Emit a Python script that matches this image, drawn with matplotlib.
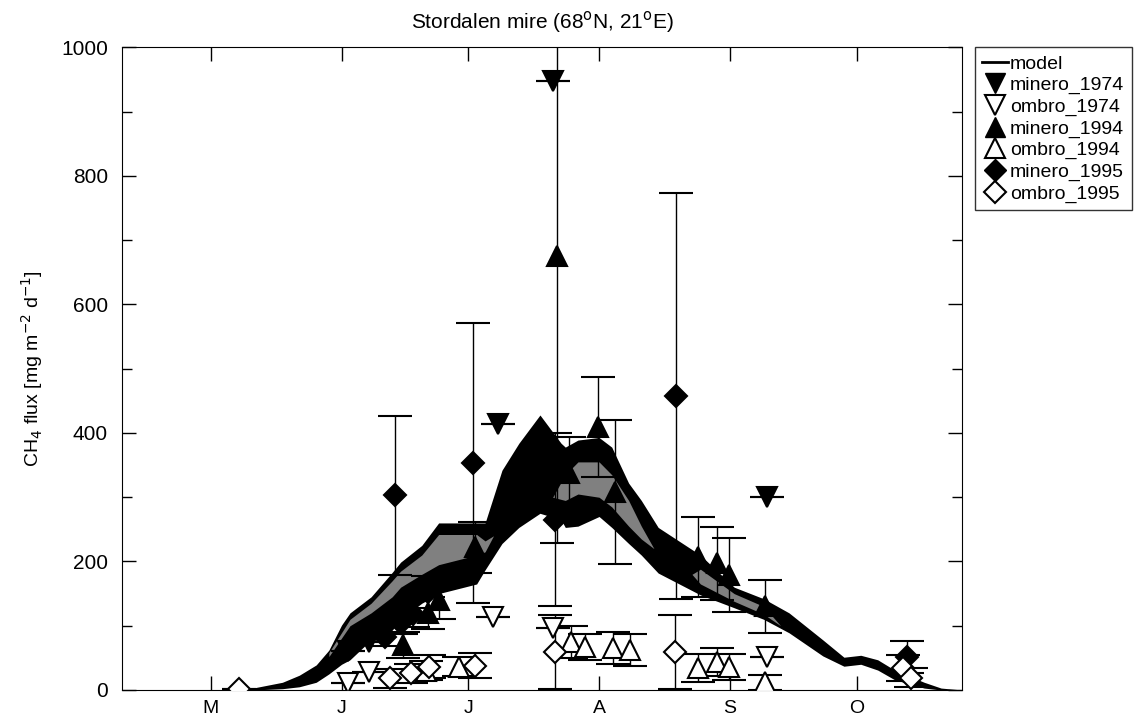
import numpy as np
import matplotlib
matplotlib.use("Agg")
from matplotlib import pyplot as plt
from matplotlib.lines import Line2D

plt.rcParams['font.family'] = ['Liberation Sans', 'DejaVu Sans']

# model envelope (day of year, CH4 flux)
band_day = [114, 140, 145, 152, 156, 160, 163, 166, 168, 173, 178, 180, 185, 189, 198, 200,
            204, 208, 213, 218, 219, 222, 227, 230, 234, 237, 241, 251, 259, 266, 272, 280,
            285, 289, 293, 297, 304, 308, 313]
band_hi = [0, 0, 3, 12, 23, 39, 62, 101, 120, 145, 183, 199, 225, 260, 260, 260,
           342, 384, 428, 384, 378, 389, 393, 378, 322, 295, 253, 210, 160, 142, 120, 78,
           51, 54, 47, 31, 12, 3, 0]
band_lo = [0, 0, 0, 2, 5, 12, 25, 40, 47, 78, 93, 110, 135, 150, 165, 187,
           228, 253, 275, 265, 253, 255, 270, 253, 228, 210, 182, 148, 128, 110, 89, 53,
           37, 40, 31, 16, 3, 0, 0]
# lighter stippled patches inside the envelope
grey_day = [163, 168, 173, 178, 180, 185, 189, 198, 200, 202, 216, 219, 222, 227, 230, 234,
            237, 240, 249, 251, 259, 266, 270]
grey_hi = [58, 110, 135, 170, 185, 210, 242, 242, 232, 240, 300, 335, 355, 355, 335, 295,
           255, 220, 180, 188, 150, 130, 100]
grey_lo = [52, 100, 120, 145, 160, 180, 195, 210, 215, 240, 300, 295, 305, 300, 285, 255,
           235, 220, 180, 165, 138, 118, 100]

# observations: day, value, error
m74_day = [167.6, 172.4, 203.1, 216.1, 266.7]
m74_val = [60, 75, 414, 948, 300]
m74_err = [0, 0, 0, 0, 0]

o74_day = [167.6, 172.4, 201.9, 216.1, 266.7]
o74_val = [11, 28, 113, 96, 51]
o74_err = [0, 0, 0, 0, 0]

m94_day = [180.5, 186.5, 189.0, 197.7, 217.0, 219.9, 226.7, 230.8, 250.4, 254.9, 257.7, 266.2]
m94_val = [70, 120, 140, 222, 675, 337, 409, 308, 207, 197, 179, 130]
m94_err = [20, 25, 30, 40, 447, 56, 78, 112, 63, 57, 58, 41]

o94_day = [186.0, 193.9, 220.3, 223.6, 230.3, 234.3, 250.4, 254.9, 257.7, 266.2]
o94_val = [30, 36, 75, 67, 65, 62, 34, 44, 36, 12]
o94_err = [15, 15, 25, 20, 25, 25, 22, 22, 20, 12]

m95_day = [176.4, 178.7, 180.0, 183.0, 186.5, 197.2, 216.6, 245.2, 300.0]
m95_val = [83, 303, 105, 118, 152, 353, 265, 457, 52]
m95_err = [15, 124, 18, 20, 25, 218, 135, 316, 25]

o95_day = [141.6, 177.6, 182.4, 186.7, 197.7, 216.6, 245.0, 298.9, 301.0]
o95_val = [1.5, 18, 26, 36, 38, 59, 59, 34, 19]
o95_err = [0, 15, 15, 18, 20, 58, 58, 20, 15]

month_pos = [135, 166, 196, 227, 258, 288]
month_lab = ['M', 'J', 'J', 'A', 'S', 'O']

fig = plt.figure(figsize=(11.4, 7.26), dpi=100)
ax = fig.add_axes([0.107, 0.0496, 0.737, 0.885])

ax.fill_between(band_day, band_lo, band_hi, color='black', lw=0, zorder=1)
ax.fill_between(grey_day, grey_lo, grey_hi, color='0.5', lw=0, zorder=1.5)

ebkw = dict(ecolor='black', elinewidth=1.0, capsize=12, capthick=1.2, ls='none',
            mec='black', mew=1.5, zorder=3)
ax.errorbar(m74_day, m74_val, yerr=m74_err, marker='v', ms=14, mfc='black', **ebkw)
ax.errorbar(o74_day, o74_val, yerr=o74_err, marker='v', ms=14, mfc='white', **ebkw)
ax.errorbar(m94_day, m94_val, yerr=m94_err, marker='^', ms=14, mfc='black', **ebkw)
ax.errorbar(o94_day, o94_val, yerr=o94_err, marker='^', ms=14, mfc='white', **ebkw)
ax.errorbar(m95_day, m95_val, yerr=m95_err, marker='D', ms=11, mfc='black', **ebkw)
ax.errorbar(o95_day, o95_val, yerr=o95_err, marker='D', ms=11, mfc='white', **ebkw)

ax.set_xlim(114, 313)
ax.set_ylim(0, 1000)
ax.set_xticks(month_pos)
ax.set_xticklabels(month_lab)
ax.set_yticks(range(0, 1001, 200))
ax.set_yticks(range(0, 1001, 100), minor=True)
ax.tick_params(which='both', direction='in', top=True, right=True, labelsize=15,
               length=10, width=1)
ax.tick_params(which='minor', length=7)
ax.tick_params(axis='x', pad=7, labelsize=14)
ax.tick_params(axis='y', pad=10)
ax.set_title('Stordalen mire (68$^{\\rm o}$N, 21$^{\\rm o}$E)', fontsize=15, pad=14)
ax.set_ylabel('CH$_4$ flux [mg m$^{-2}$ d$^{-1}$]', fontsize=14, labelpad=12)

handles = [Line2D([], [], color='black', lw=2),
           Line2D([], [], ls='none', marker='v', ms=14, mfc='black', mec='black'),
           Line2D([], [], ls='none', marker='v', ms=14, mfc='white', mec='black', mew=1.5),
           Line2D([], [], ls='none', marker='^', ms=14, mfc='black', mec='black'),
           Line2D([], [], ls='none', marker='^', ms=14, mfc='white', mec='black', mew=1.5),
           Line2D([], [], ls='none', marker='D', ms=11, mfc='black', mec='black'),
           Line2D([], [], ls='none', marker='D', ms=11, mfc='white', mec='black', mew=1.5)]
labels = ['model', 'minero_1974', 'ombro_1974', 'minero_1994', 'ombro_1994',
          'minero_1995', 'ombro_1995']
fig.legend(handles, labels, loc='upper left', bbox_to_anchor=(0.855, 0.935),
           borderaxespad=0, fontsize=14, frameon=True, fancybox=False, edgecolor='black',
           handlelength=1.3, handletextpad=0.1, labelspacing=0.2, borderpad=0.4)

fig.savefig('out.png', dpi=100)
